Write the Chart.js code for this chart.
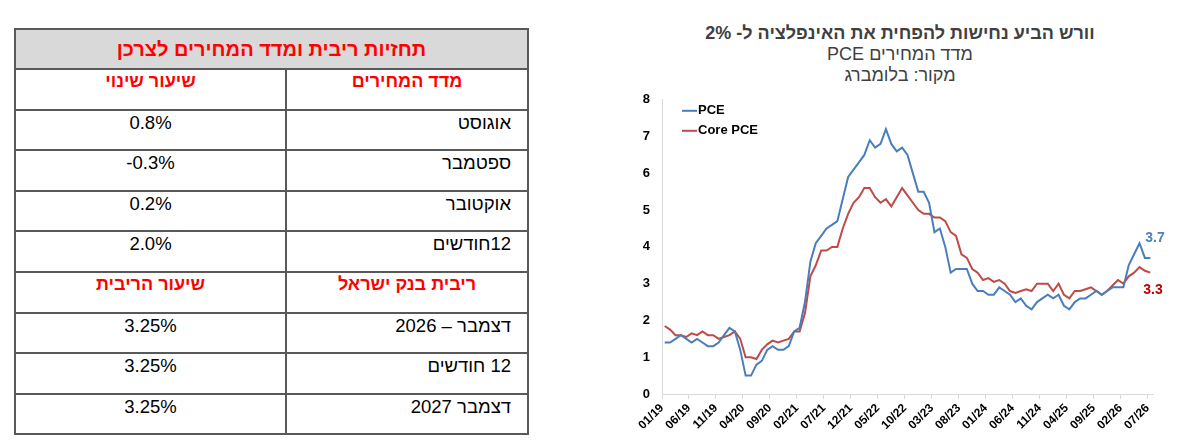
<!DOCTYPE html>
<html lang="he">
<head>
<meta charset="UTF-8">
<title>PCE</title>
<script src="https://cdn.jsdelivr.net/npm/chart.js"></script>
<style>
  body { margin: 0; width: 1178px; height: 446px; overflow: hidden; background: #fff; font-family: 'Liberation Sans', Arial, sans-serif; }
  .tbl { position: absolute; left: 14px; top: 28px; width: 513px; border-collapse: collapse; direction: rtl; table-layout: fixed; }
  .tbl td { border: 2px solid #595959; vertical-align: top; padding: 1px 16px 0 16px; font-size: 18.5px; color: #000; }
  .tbl tr { height: 40.6px; }
  .tbl tr.top { height: 40px; }
  .tbl td.title { background: #d9d9d9; color: #ff0000; font-weight: bold; font-size: 20px; text-align: center; vertical-align: middle; padding: 0; }
  .tbl td.head { color: #ff0000; font-weight: bold; font-size: 18px; text-align: center; }
  .tbl td.val { text-align: center; direction: ltr; }
  .titles { position: absolute; left: 700px; top: 23px; width: 400px; text-align: center; direction: rtl; color: #404040; }
  .titles div { height: 21px; line-height: 21px; font-size: 18px; }
  .titles .main { font-weight: bold; }
  #wrap { position: absolute; left: 620px; top: 80px; width: 558px; height: 366px; }
</style>
</head>
<body>

<table class="tbl">
  <colgroup><col style="width:242px"><col style="width:271px"></colgroup>
  <tr class="top"><td class="title" colspan="2">תחזיות ריבית ומדד המחירים לצרכן</td></tr>
  <tr><td class="head">מדד המחירים</td><td class="head">שיעור שינוי</td></tr>
  <tr><td>אוגוסט</td><td class="val">0.8%</td></tr>
  <tr><td>ספטמבר</td><td class="val">-0.3%</td></tr>
  <tr><td>אוקטובר</td><td class="val">0.2%</td></tr>
  <tr><td>12חודשים</td><td class="val">2.0%</td></tr>
  <tr><td class="head">ריבית בנק ישראל</td><td class="head">שיעור הריבית</td></tr>
  <tr><td>דצמבר – 2026</td><td class="val">3.25%</td></tr>
  <tr><td>12 חודשים</td><td class="val">3.25%</td></tr>
  <tr><td>דצמבר 2027</td><td class="val">3.25%</td></tr>
</table>

<div class="titles">
  <div class="main">וורש הביע נחישות להפחית את האינפלציה ל- 2%</div>
  <div>מדד המחירים PCE</div>
  <div>מקור: בלומברג</div>
</div>

<div id="wrap"><canvas id="pceChart"></canvas></div>

<script>
// x axis: one tick label every 5 months, 01/19 .. 07/26
const tickLabels = ['01/19','06/19','11/19','04/20','09/20','02/21','07/21','12/21','05/22','10/22',
  '03/23','08/23','01/24','06/24','11/24','04/25','09/25','02/26','07/26'];
const monthsPerTick = 5;

// monthly values, 01/19 .. 07/26
const pce = [1.4,1.4,1.5,1.6,1.5,1.4,1.5,1.4,1.3,1.3,
  1.4,1.6,1.8,1.7,1.2,0.5,0.5,0.8,0.9,1.2,
  1.3,1.2,1.2,1.3,1.7,1.8,2.5,3.6,4.1,4.3,
  4.5,4.6,4.7,5.3,5.9,6.1,6.3,6.5,6.9,6.7,
  6.8,7.2,6.8,6.6,6.7,6.5,6.0,5.5,5.5,5.2,
  4.4,4.5,4.0,3.3,3.4,3.4,3.4,3.0,2.8,2.8,
  2.7,2.7,2.9,2.8,2.7,2.5,2.6,2.4,2.3,2.5,
  2.6,2.7,2.6,2.7,2.4,2.3,2.5,2.6,2.6,2.7,
  2.8,2.7,2.8,2.9,2.9,2.9,3.5,3.8,4.1,3.7,
  3.7];
const corePce = [1.85,1.75,1.6,1.6,1.55,1.65,1.6,1.7,1.6,1.6,
  1.5,1.55,1.6,1.7,1.5,1.0,1.0,0.95,1.2,1.35,
  1.45,1.4,1.45,1.5,1.7,1.7,2.2,3.2,3.5,3.9,
  3.9,4.0,4.0,4.5,4.9,5.2,5.35,5.6,5.6,5.35,
  5.2,5.3,5.1,5.35,5.6,5.4,5.2,5.0,4.9,4.9,
  4.8,4.8,4.7,4.4,4.3,3.8,3.7,3.4,3.3,3.1,
  3.15,3.05,3.1,3.0,2.8,2.75,2.8,2.85,2.8,3.0,
  3.0,3.0,2.8,3.0,2.7,2.6,2.8,2.8,2.85,2.9,
  2.8,2.7,2.8,2.95,3.1,3.0,3.2,3.3,3.45,3.35,
  3.3];

const seriesNames = ['PCE', 'Core PCE'];
const lineColors = ['#4a7ebb', '#be4b48'];
const endLabelColors = ['#4f81bd', '#c00000'];

const FONT = "'Liberation Sans', Arial, sans-serif";

// points sit mid-month
const toPoints = arr => arr.map((v, i) => ({ x: i + 0.5, y: v }));

// legend drawn inside the plot, top-left
const insideLegend = {
  id: 'insideLegend',
  afterDraw(chart) {
    const { ctx, chartArea } = chart;
    ctx.save();
    ctx.font = 'bold 13px ' + FONT;
    ctx.textBaseline = 'middle';
    ctx.textAlign = 'left';
    chart.data.datasets.forEach((ds, k) => {
      const x = chartArea.left + 20;
      const y = chartArea.top + 11 + k * 20;
      ctx.strokeStyle = ds.borderColor;
      ctx.lineWidth = 2;
      ctx.beginPath(); ctx.moveTo(x, y); ctx.lineTo(x + 15, y); ctx.stroke();
      ctx.fillStyle = '#000';
      ctx.fillText(ds.label, x + 16, y);
    });
    ctx.restore();
  }
};

// last value printed next to the end of each line
const endLabels = {
  id: 'endLabels',
  afterDatasetsDraw(chart) {
    const ctx = chart.ctx;
    const shift = [[-5, -20], [-7, 17]];
    ctx.save();
    ctx.font = 'bold 14px ' + FONT;
    ctx.textBaseline = 'middle';
    ctx.textAlign = 'left';
    chart.data.datasets.forEach((ds, k) => {
      const meta = chart.getDatasetMeta(k);
      const pt = meta.data[meta.data.length - 1];
      ctx.fillStyle = endLabelColors[k];
      ctx.fillText(ds.data[ds.data.length - 1].y.toFixed(1), pt.x + shift[k][0], pt.y + shift[k][1]);
    });
    ctx.restore();
  }
};

new Chart(document.getElementById('pceChart'), {
  type: 'line',
  data: {
    datasets: [pce, corePce].map((arr, k) => ({
      label: seriesNames[k],
      data: toPoints(arr),
      borderColor: lineColors[k],
      borderWidth: 2,
      pointRadius: 0,
      tension: 0
    }))
  },
  options: {
    responsive: true,
    maintainAspectRatio: false,
    animation: false,
    layout: { padding: { left: 12, right: 25, top: 4, bottom: 6 } },
    plugins: { legend: { display: false }, tooltip: { enabled: false } },
    scales: {
      x: {
        type: 'linear',
        min: 0,
        max: pce.length,
        afterBuildTicks: s => { s.ticks = tickLabels.map((_, k) => ({ value: k * monthsPerTick })); },
        afterFit: s => { s.height = 46; },
        ticks: {
          autoSkip: false,
          minRotation: 45,
          maxRotation: 45,
          padding: 2,
          color: '#000',
          font: { family: FONT, size: 12, weight: 'bold' },
          callback: (v, i) => tickLabels[i]
        },
        grid: { drawOnChartArea: false, drawTicks: true, tickLength: 5, color: '#d9d9d9' },
        border: { color: '#d9d9d9', width: 1 }
      },
      y: {
        min: 0,
        max: 8,
        afterFit: s => { s.width = 30; },
        ticks: {
          stepSize: 1,
          padding: 12,
          color: '#000',
          font: { family: FONT, size: 13, weight: 'bold' }
        },
        grid: { display: false, drawTicks: false },
        border: { color: '#d9d9d9', width: 1 }
      }
    }
  },
  plugins: [insideLegend, endLabels]
});
</script>
</body>
</html>
